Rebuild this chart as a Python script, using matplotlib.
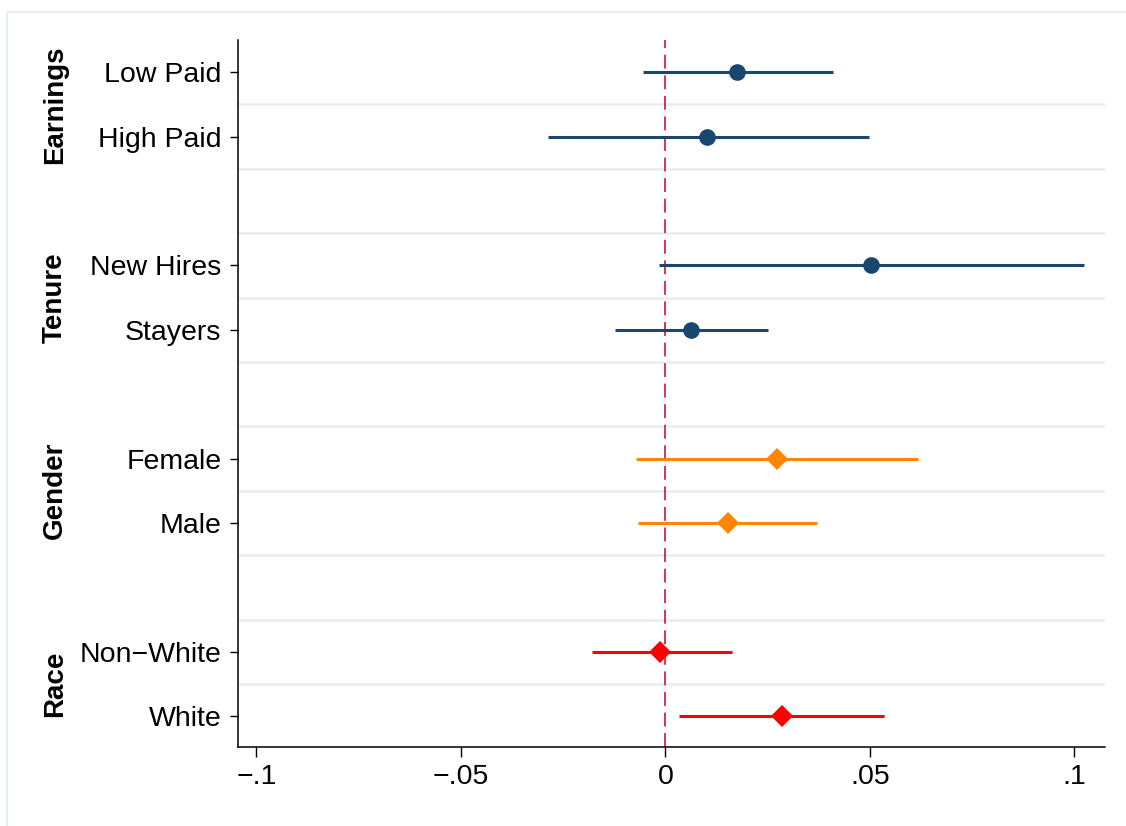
import matplotlib
matplotlib.use("Agg")
import matplotlib.pyplot as plt
import matplotlib.transforms as mtransforms
from matplotlib.patches import Rectangle

plt.rcParams['font.family'] = ['Liberation Sans', 'DejaVu Sans']
plt.rcParams['lines.scale_dashes'] = False

# ---- data ----
labels = ["Low Paid", "High Paid", "New Hires", "Stayers", "Female", "Male", "Non\u2212White", "White"]
rows = [1, 2, 4, 5, 7, 8, 10, 11]
estimates = [0.0176, 0.0102, 0.0502, 0.0062, 0.0274, 0.0152, -0.0012, 0.0286]
ci_low = [-0.0054, -0.0288, -0.0015, -0.0122, -0.0071, -0.0068, -0.0180, 0.0034]
ci_high = [0.0410, 0.0498, 0.1024, 0.0250, 0.0618, 0.0372, 0.0162, 0.0535]
series = ["navy", "navy", "navy", "navy", "orange", "orange", "red", "red"]
groups = ["Earnings", "Tenure", "Gender", "Race"]
group_centers = [1.5, 4.5, 7.5, 10.5]
xticks = [-0.1, -0.05, 0, 0.05, 0.1]
xtick_labels = ["\u2212.1", "\u2212.05", "0", ".05", ".1"]
grid_rows = [1.5, 2.5, 3.5, 4.5, 5.5, 6.5, 7.5, 8.5, 9.5, 10.5]

colors = {"navy": "#1A476F", "orange": "#FF8600", "red": "#FF0000"}
markers = {"navy": "o", "orange": "D", "red": "D"}
msizes = {"navy": 12.0, "orange": 11.0, "red": 11.0}

W, H = 1126, 826
fig = plt.figure(figsize=(W / 100, H / 100), dpi=100)
fig.patch.set_facecolor("white")

# outer light frame (top and left visible)
fig.patches.append(Rectangle((7 / W, -0.05), 1.2, 1 - 12 / H + 0.05,
                             transform=fig.transFigure, fill=False,
                             edgecolor="#E6EFF0", linewidth=1.5, zorder=0))

ax = fig.add_axes([238 / W, 1 - 747 / H, (1105 - 238) / W, (747 - 40) / H])
ax.set_xlim(-0.1045, 0.1075)
ax.set_ylim(11.48, 0.5)

for g in grid_rows:
    ax.axhline(g, color="#E6EEF0", linewidth=1.8, zorder=1)

ax.axvline(0, color="#C8143F", linewidth=1.2, dashes=(10.0, 4.8), zorder=2)

for r, est, lo, hi, s in zip(rows, estimates, ci_low, ci_high, series):
    c = colors[s]
    ax.plot([lo, hi], [r, r], color=c, linewidth=2.2, solid_capstyle="butt", zorder=3)
    ax.plot([est], [r], marker=markers[s], markersize=msizes[s], color=c,
            markeredgewidth=0, linestyle="none", zorder=4)

ax.set_yticks(rows)
ax.set_yticklabels(labels)
ax.set_xticks(xticks)
ax.set_xticklabels(xtick_labels)

for side in ["top", "right"]:
    ax.spines[side].set_visible(False)
for side in ["left", "bottom"]:
    ax.spines[side].set_linewidth(1.1)
    ax.spines[side].set_color("black")

ax.tick_params(axis="y", length=6, width=1.0, pad=6, labelsize=20.5, colors="black")
ax.tick_params(axis="x", length=7.2, width=1.0, pad=5, labelsize=20.5, colors="black")

trans = mtransforms.blended_transform_factory(ax.transAxes, ax.transData)
x_group = (55 - 238) / (1105 - 238)
for g, yc in zip(groups, group_centers):
    ax.text(x_group, yc, g, transform=trans, rotation=90, ha="center", va="center",
            fontsize=20, fontweight="bold", color="black")

fig.savefig("out.png", dpi=100, facecolor="white")
